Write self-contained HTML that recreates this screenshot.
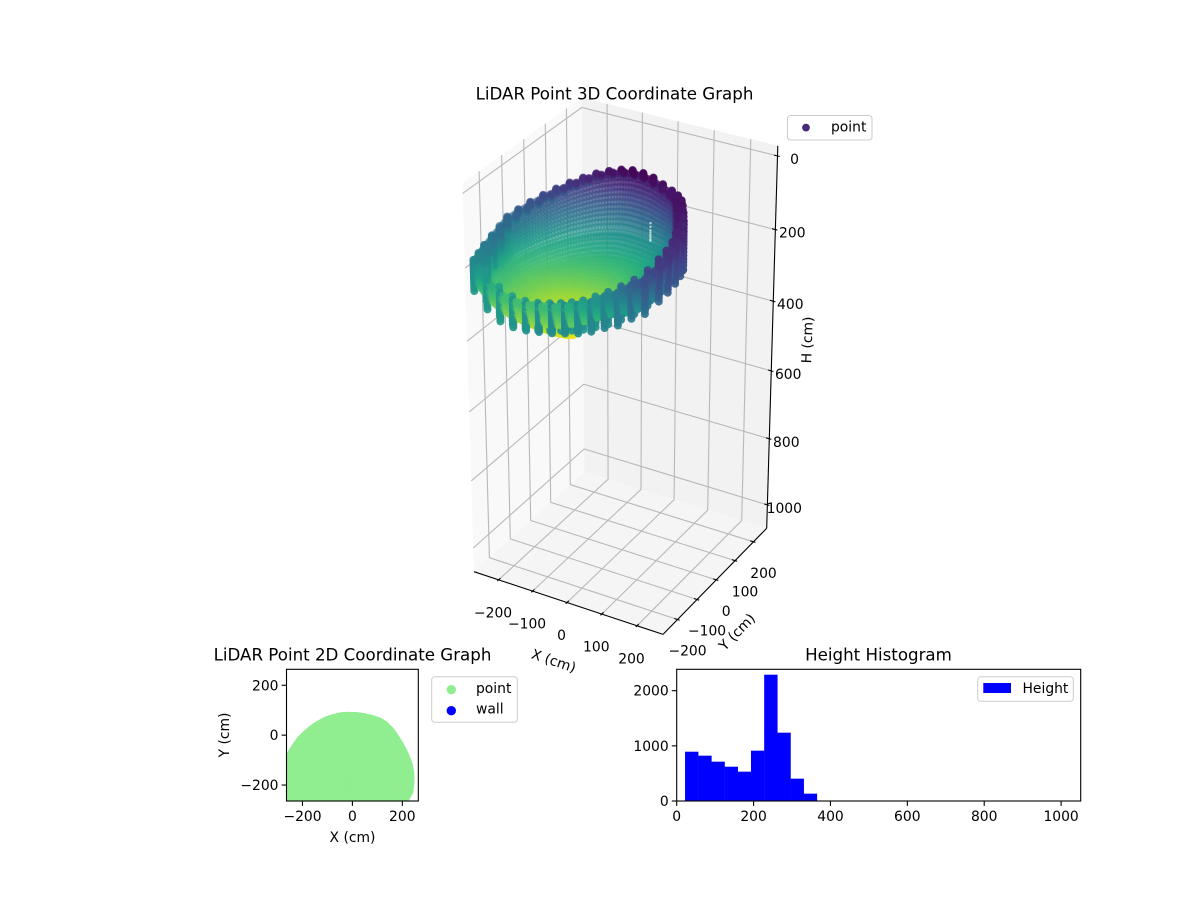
<!DOCTYPE html>
<html>
<head>
<meta charset="utf-8">
<title>LiDAR Point Graphs</title>
<style>
html,body{margin:0;padding:0;background:#fff;}
svg{display:block;}
text{font-family:"DejaVu Sans","Liberation Sans",sans-serif;fill:#000;}
.t{font-size:13.89px;}
.h{font-size:16.67px;}
</style>
</head>
<body>
<svg id="fig" xmlns="http://www.w3.org/2000/svg" width="1200" height="900" viewBox="0 0 1200 900">
  <defs>
    <clipPath id="clip2d"><rect x="286.5" y="669.3" width="132" height="131.7"/></clipPath>
  </defs>
  <rect x="0" y="0" width="1200" height="900" fill="#fff"/>
  <g id="g3d"></g>
  <text class="h" x="614.5" y="99.5" text-anchor="middle">LiDAR Point 3D Coordinate Graph</text>
  <g>
    <rect x="787.5" y="115.5" width="84.5" height="24.5" rx="3" fill="#fff" fill-opacity="0.8" stroke="#ccc"/>
    <circle cx="806" cy="127.6" r="3.9" fill="#472a7a"/>
    <text class="t" x="831" y="131.5">point</text>
  </g>
  <g id="g2d"></g>
  <text class="h" x="352.5" y="660.7" text-anchor="middle">LiDAR Point 2D Coordinate Graph</text>
  <text class="t" x="352.5" y="842" text-anchor="middle">X (cm)</text>
  <text class="t" x="0" y="0" text-anchor="middle" transform="translate(229,735) rotate(-90)">Y (cm)</text>
  <g>
    <rect x="431.7" y="676.7" width="85.6" height="45.6" rx="3" fill="#fff" fill-opacity="0.8" stroke="#ccc"/>
    <circle cx="451.3" cy="689.7" r="4.7" fill="#90ee90"/>
    <text class="t" x="476" y="693">point</text>
    <circle cx="451.3" cy="710.7" r="4.7" fill="#0000ff"/>
    <text class="t" x="476" y="713.5">wall</text>
  </g>
  <g id="ghist"></g>
  <text class="h" x="878.5" y="660.7" text-anchor="middle">Height Histogram</text>
  <g>
    <rect x="977.7" y="676.7" width="95.6" height="24.6" rx="3" fill="#fff" fill-opacity="0.8" stroke="#ccc"/>
    <rect x="983.3" y="683" width="27.7" height="10" fill="#0000ff"/>
    <text class="t" x="1022.5" y="693">Height</text>
  </g>
</svg>
<script>
/* ---------- data ---------- */
const rimX = [-258,-222,-186,-150,-114,-78,-42,-6,30,66,102,138,174,210,
  228,232,232,226,214,200,184,168,
  152,130,105,75,45,15,-15,-45,-75,-105,-133,-160,-185,-208,-228,-245,-258,-258,-258,-258,-258];
const rimY = [-258,-258,-258,-258,-258,-258,-258,-258,-258,-258,-258,-258,-258,-258,
  -225,-190,-155,-120,-88,-58,-30,-5,
  18,40,55,65,72,76,77,75,68,58,43,25,3,-20,-47,-75,-105,-140,-175,-210,-235];
const rimH = [180,225,250,258,258,252,245,235,222,205,180,160,130,105,
  80,72,65,58,52,47,42,38,
  38,40,40,35,28,25,25,30,38,48,60,72,85,98,110,122,132,142,152,162,172];
const spokeFloorH = [345,355,360,362,362,360,355,345,330,315,300,290,285,285,
  285,285,285,290,295,300,305,310,
  315,320,330,340,345,350,350,350,350,350,350,350,350,350,350,350,350,350,350,350,348];
const wallDrop = [85,80,78,76,75,75,75,75,78,80,85,88,90,92,
  95,95,95,100,110,130,150,150,
  12,12,12,12,12,12,12,12,12,12,12,12,12,12,12,12,20,40,60,75,85];
const wallHue = [205,205,205,200,195,190,185,185,185,180,175,170,160,150,
  135,125,120,115,110,105,100,100,
  60,60,60,60,60,60,60,70,80,90,100,110,120,130,140,150,170,180,190,195,200];
const wallFractions = [0,0.07,0.14,0.21,0.28,0.35,0.42,0.49,0.56,0.63,0.7,0.77,0.84,0.91,1];
const skirtFractions = [0,0.11,0.22,0.33,0.44,0.55,0.66,0.77,0.88,1];
const skirtBlend = 0.5;
const skirtBackset = 14;
const skirtHueShift = 14;
const steepFractions = [0.995,0.99,0.985,0.98,0.975,0.97,0.965,0.96,0.955,0.95,0.94,0.93];
const steepDepths    = [0.03,0.06,0.1,0.14,0.18,0.22,0.26,0.3,0.34,0.38,0.42,0.46];
const ringFractions = [0.9,0.87,0.84,0.81,0.78,0.75,0.72,0.69,0.66,0.63,0.6,0.57,0.54,0.51,0.48,0.45,0.42,0.39,0.36,0.33,0.3,0.27,0.24,0.21,0.18,0.15,0.12,0.09,0.06,0.03];
const ringDepths    = [0.5,0.52,0.55,0.58,0.61,0.64,0.66,0.68,0.7,0.72,0.74,0.76,0.78,0.8,0.82,0.84,0.86,0.88,0.89,0.9,0.915,0.93,0.94,0.955,0.965,0.975,0.985,0.99,0.995,1];
const spokeBlends = [0,0.25,0.5,0.75];
const rimBlends2d = [0,0.2,0.4,0.6,0.8];
const bowlCenter = [-30,-175];
const gapStreakH = [140,150,160,166,172,178,184,188];
const gapStreakXY = [50,50];
const wallSeries2d = [];
const xTicks3d = [-200,-100,0,100,200];
const yTicks3d = [-200,-100,0,100,200];
const zTicks3d = [0,200,400,600,800,1000];
const xLim3d = [-273,273];
const yLim3d = [-273,273];
const zLim3d = [1072,-27];
const ticks2d = [-200,0,200];
const lim2d = [-264,264];
const histCounts = [894,822,713,622,532,913,2290,1239,405,133,0,0,0,0,0,0,0,0,0,0,0,0,0,0,0,0,0,0,0,0];
const histRange = [21.7,1051];
const histXTicks = [0,200,400,600,800,1000];
const histYTicks = [0,1000,2000];
const histXLim = [0,1051];
const histYLim = [0,2388];
const viridisStops = ["#440154","#482475","#414487","#355f8d","#2a788e","#21918c","#22a884","#44bf70","#7ad151","#bddf26","#fde725"];
const colorRange = [22,365];

const NS = "http://www.w3.org/2000/svg";
function mk(parent, tag){ const e = document.createElementNS(NS, tag); parent.appendChild(e); return e; }
function fmt(v){ return String(v).replace("-", "\u2212"); }

/* ---------- 3D axis functions ---------- */
const BOX = [0.3735,0.3735,0.747], DIST = 10, SX = 2975, TX = 622, TY = 364.2;
function project(x,y,h){
  const dx = ((x-xLim3d[0])/(xLim3d[1]-xLim3d[0])*2-1)*BOX[0];
  const dy = ((y-yLim3d[0])/(yLim3d[1]-yLim3d[0])*2-1)*BOX[1];
  const dz = ((zLim3d[0]-h)/(zLim3d[0]-zLim3d[1])*2-1)*BOX[2];
  const a = 0.866025*dx+0.5*dy;
  const b = -0.25*dx+0.433013*dy+0.866025*dz;
  const c = 0.433013*dx-0.75*dy+0.5*dz;
  const w = DIST-c;
  return [TX+SX*a/w, TY-SX*b/w, c];
}
function viridis(v){
  const t = Math.max(0,Math.min(1,(v-colorRange[0])/(colorRange[1]-colorRange[0])))*(viridisStops.length-1);
  const i = Math.min(viridisStops.length-2,Math.floor(t)), f = t-i;
  const p = s=>[1,3,5].map(k=>parseInt(s.substr(k,2),16));
  const A = p(viridisStops[i]), B = p(viridisStops[i+1]);
  return "rgb("+A.map((q,k)=>Math.round(q+(B[k]-q)*f)).join(",")+")";
}

const g3 = document.getElementById("g3d");
const [x0,x1] = xLim3d, [y0,y1] = yLim3d, [zb,zt] = zLim3d;
function poly(pts){ return pts.map(p=>{const q=project(p[0],p[1],p[2]);return q[0].toFixed(1)+","+q[1].toFixed(1);}).join(" "); }

const paneLeft = mk(g3,"polygon");


paneLeft.setAttribute("points",poly([[x0,y0,zb],[x0,y1,zb],[x0,y1,zt],[x0,y0,zt]]));
paneLeft.setAttribute("fill","#f9f9f9");
const paneBack = mk(g3,"polygon");


paneBack.setAttribute("points",poly([[x0,y1,zb],[x1,y1,zb],[x1,y1,zt],[x0,y1,zt]]));
paneBack.setAttribute("fill","#f2f2f2");
const paneFloor = mk(g3,"polygon");


paneFloor.setAttribute("points",poly([[x0,y0,zb],[x1,y0,zb],[x1,y1,zb],[x0,y1,zb]]));
paneFloor.setAttribute("fill","#f5f5f5");

function gridLine(pts){
  const l = mk(g3,"polyline");
  
  
  l.setAttribute("points",poly(pts));
  l.setAttribute("fill","none");
  l.setAttribute("stroke","#b8b8b8");
  l.setAttribute("stroke-width","1.1");
}
xTicks3d.forEach(v=>gridLine([[v,y0,zb],[v,y1,zb],[v,y1,zt]]));
yTicks3d.forEach(v=>gridLine([[x1,v,zb],[x0,v,zb],[x0,v,zt]]));
zTicks3d.forEach(v=>gridLine([[x0,y0,v],[x0,y1,v],[x1,y1,v]]));

function axisLine(name,pts,w){
  const l = mk(g3,"polyline");
  
  
  l.setAttribute("points",poly(pts));
  l.setAttribute("fill","none");
  l.setAttribute("stroke","#000");
  l.setAttribute("stroke-width",w||"1.1");
}
axisLine("x-axis-line-3d",[[x0,y0,zb],[x1,y0,zb]]);
axisLine("y-axis-line-3d",[[x1,y0,zb],[x1,y1,zb]]);
axisLine("z-axis-line-3d",[[x1,y1,zb],[x1,y1,zt]]);

function tickLabel(parent,str,px,py,anchor){
  const t = mk(parent,"text");
  t.setAttribute("class","t");
  
  
  t.setAttribute("x",px.toFixed(1));
  t.setAttribute("y",py.toFixed(1));
  t.setAttribute("text-anchor",anchor);
  t.textContent = str;
}
xTicks3d.forEach(v=>{
  axisLine("x-tick-3d",[[v,y0+9,zb],[v,y0-6,zb]]);
  const p = project(v,y0,zb);
  tickLabel(g3,fmt(v),p[0]-5.5,p[1]+37.5,"middle");
});
yTicks3d.forEach(v=>{
  axisLine("y-tick-3d",[[x1-9,v,zb],[x1+6,v,zb]]);
  const p = project(x1,v,zb);
  tickLabel(g3,fmt(v),p[0]+10,p[1]+36,"middle");
});
zTicks3d.forEach(v=>{
  axisLine("z-tick-3d",[[x1-9,y1,v],[x1+6,y1,v]]);
  const p = project(x1,y1,v);
  tickLabel(g3,fmt(v),p[0]+17,p[1]+8,"middle");
});
[["x-axis-title-3d","X (cm)",553.5,661.5,18.5],["y-axis-title-3d","Y (cm)",737.5,632.5,-46],["z-axis-title-3d","H (cm)",808,340,-88]].forEach(d=>{
  const t = mk(g3,"text");
  t.setAttribute("class","t");
  
  
  t.setAttribute("text-anchor","middle");
  t.setAttribute("dominant-baseline","central");
  t.setAttribute("transform","translate("+d[2]+","+d[3]+") rotate("+d[4]+")");
  t.textContent = d[1];
});

/* ---------- point cloud built from the rim and ring tables ---------- */
const cloud = [];
const points2d = [];
const N = rimX.length;
const solidWallDrop = 50;
function spoke(i,b){
  const j = (i+1)%N;
  return {
    x: rimX[i]+(rimX[j]-rimX[i])*b,
    y: rimY[i]+(rimY[j]-rimY[i])*b,
    h: rimH[i]+(rimH[j]-rimH[i])*b,
    fl: spokeFloorH[i]+(spokeFloorH[j]-spokeFloorH[i])*b
  };
}
function addBowlPoint(s,f,g){
  const x = bowlCenter[0]+(s.x-bowlCenter[0])*f;
  const y = bowlCenter[1]+(s.y-bowlCenter[1])*f;
  const h = s.h+(s.fl-s.h)*g;
  cloud.push({x:x,y:y,h:h,c:h,solid:false});
  points2d.push([x,y]);
}
rimX.forEach((rx,i)=>{
  spokeBlends.forEach(b=>{
    const s = spoke(i,b);
    ringFractions.forEach((f,k)=>addBowlPoint(s,f,ringDepths[k]));
    steepFractions.forEach((f,k)=>addBowlPoint(s,f,steepDepths[k]));
  });
  wallFractions.forEach(w=>{
    const h = rimH[i]+wallDrop[i]*w;
    const top = Math.min(rimH[i],wallHue[i]);
    cloud.push({x:rx,y:rimY[i],h:h,c:top+(wallHue[i]-top)*w,solid:wallDrop[i]>=solidWallDrop});
  });
  const k = (i+1)%N;
  const sk = spoke(i,skirtBlend);
  const skirtDrop = (wallDrop[i]+wallDrop[k])/2;
  const skirtHue = (wallHue[i]+wallHue[k])/2+skirtHueShift;
  skirtFractions.forEach(w=>{
    const top = Math.min(sk.h,skirtHue);
    const x = bowlCenter[0]+(sk.x-bowlCenter[0])*(1-skirtBackset/Math.hypot(sk.x-bowlCenter[0],sk.y-bowlCenter[1]));
    const y = bowlCenter[1]+(sk.y-bowlCenter[1])*(1-skirtBackset/Math.hypot(sk.x-bowlCenter[0],sk.y-bowlCenter[1]));
    cloud.push({x:x,y:y,h:sk.h+skirtDrop*w,c:top+(skirtHue-top)*w,solid:skirtDrop>=solidWallDrop});
  });
  rimBlends2d.forEach(b=>{
    const s = spoke(i,b);
    points2d.push([s.x,s.y]);
  });
});
cloud.forEach(p=>{ const q = project(p.x,p.y,p.h); p.sx=q[0]; p.sy=q[1]; p.d=q[2]; });
const dMin = Math.min.apply(null,cloud.map(p=>p.d)), dMax = Math.max.apply(null,cloud.map(p=>p.d));
cloud.sort((a,b)=>a.d-b.d);
const cloudGroup = mk(g3,"g");


cloud.forEach(p=>{
  const e = mk(cloudGroup,"circle");
  
  
  e.setAttribute("cx",p.sx.toFixed(1));
  e.setAttribute("cy",p.sy.toFixed(1));
  e.setAttribute("r","4");
  e.setAttribute("fill",viridis(p.c));
  e.setAttribute("fill-opacity",p.solid?"0.92":(0.42+0.58*(p.d-dMin)/(dMax-dMin)).toFixed(2));
});
gapStreakH.forEach(h=>{
  const q = project(gapStreakXY[0],gapStreakXY[1],h);
  const e = mk(cloudGroup,"circle");
  
  
  e.setAttribute("cx",q[0].toFixed(1));
  e.setAttribute("cy",q[1].toFixed(1));
  e.setAttribute("r","1.2");
  e.setAttribute("fill","#fff");
  e.setAttribute("fill-opacity","0.65");
});

/* ---------- 2D panel ---------- */
const g2 = document.getElementById("g2d");
const ax2 = {l:286.5,r:418.3,t:669.3,b:801};
function x2(v){ return ax2.l+(v-lim2d[0])/(lim2d[1]-lim2d[0])*(ax2.r-ax2.l); }
function y2(v){ return ax2.b-(v-lim2d[0])/(lim2d[1]-lim2d[0])*(ax2.b-ax2.t); }
const scatter2 = mk(g2,"g");


scatter2.setAttribute("clip-path","url(#clip2d)");
points2d.forEach(p=>{
  const e = mk(scatter2,"circle");
  
  
  e.setAttribute("cx",x2(p[0]).toFixed(1));
  e.setAttribute("cy",y2(p[1]).toFixed(1));
  e.setAttribute("r","4.17");
  e.setAttribute("fill","#90ee90");
});
wallSeries2d.forEach(p=>{
  const e = mk(scatter2,"circle");
  
  
  e.setAttribute("cx",x2(p[0]));
  e.setAttribute("cy",y2(p[1]));
  e.setAttribute("r","4.17");
  e.setAttribute("fill","#0000ff");
});
function frame(parent,ax,name){
  const r = mk(parent,"rect");
  
  
  r.setAttribute("x",ax.l);
  r.setAttribute("y",ax.t);
  r.setAttribute("width",ax.r-ax.l);
  r.setAttribute("height",ax.b-ax.t);
  r.setAttribute("fill","none");
  r.setAttribute("stroke","#000");
  r.setAttribute("stroke-width","1.1");
}
function xTick(parent,ax,px,str){
  const l = mk(parent,"line");
  
  
  l.setAttribute("x1",px);
  l.setAttribute("x2",px);
  l.setAttribute("y1",ax.b);
  l.setAttribute("y2",ax.b+4.9);
  l.setAttribute("stroke","#000");
  l.setAttribute("stroke-width","1.1");
  tickLabel(parent,str,px,ax.b+20,"middle");
}
function yTick(parent,ax,py,str){
  const l = mk(parent,"line");
  
  
  l.setAttribute("x1",ax.l);
  l.setAttribute("x2",ax.l-4.9);
  l.setAttribute("y1",py);
  l.setAttribute("y2",py);
  l.setAttribute("stroke","#000");
  l.setAttribute("stroke-width","1.1");
  tickLabel(parent,str,ax.l-8,py+5,"end");
}
ticks2d.forEach(v=>{ xTick(g2,ax2,x2(v),fmt(v)); yTick(g2,ax2,y2(v),fmt(v)); });
frame(g2,ax2,"axes-frame-2d");

/* ---------- histogram ---------- */
const gh = document.getElementById("ghist");
const axh = {l:676.7,r:1080.7,t:669.3,b:801};
function xh(v){ return axh.l+(v-histXLim[0])/(histXLim[1]-histXLim[0])*(axh.r-axh.l); }
function yh(v){ return axh.b-(v-histYLim[0])/(histYLim[1]-histYLim[0])*(axh.b-axh.t); }
const binWidth = (histRange[1]-histRange[0])/histCounts.length;
histCounts.forEach((n,i)=>{
  const r = mk(gh,"rect");
  
  
  r.setAttribute("x",xh(histRange[0]+i*binWidth).toFixed(2));
  r.setAttribute("width",(xh(histRange[0]+(i+1)*binWidth)-xh(histRange[0]+i*binWidth)+0.2).toFixed(2));
  r.setAttribute("y",yh(n).toFixed(2));
  r.setAttribute("height",(yh(0)-yh(n)).toFixed(2));
  r.setAttribute("fill","#0000ff");
});
histXTicks.forEach(v=>xTick(gh,axh,xh(v),fmt(v)));
histYTicks.forEach(v=>yTick(gh,axh,yh(v),fmt(v)));
frame(gh,axh,"axes-frame-histogram");
</script>
</body>
</html>
